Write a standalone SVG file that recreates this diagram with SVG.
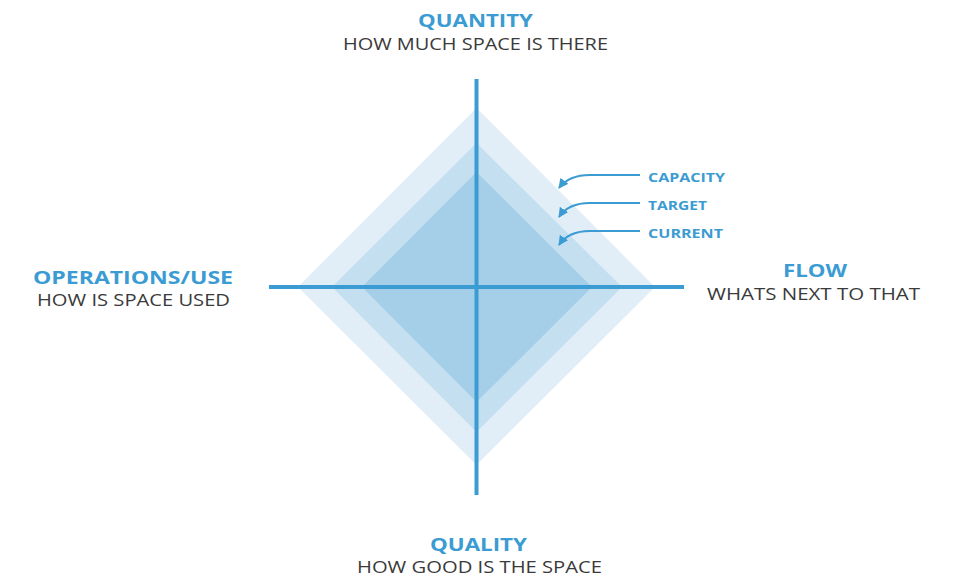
<svg xmlns="http://www.w3.org/2000/svg" width="958" height="578" viewBox="0 0 958 578">
<defs>
<style>
.title{font-family:"Open Sans","Liberation Sans",sans-serif;font-weight:700;font-size:17px;fill:#3b9bd3;}
.sub{font-family:"Open Sans","Liberation Sans",sans-serif;font-weight:400;font-size:16px;fill:#3a3a3a;}
.lbl{font-family:"Open Sans","Liberation Sans",sans-serif;font-weight:700;font-size:13px;fill:#3b9bd3;}
.axis{stroke:#3b9bd3;stroke-width:4;fill:none;}
.conn{stroke:#3b9bd3;stroke-width:2;fill:none;}
</style>
<marker id="ah" viewBox="0 0 10 10" refX="9" refY="5" markerWidth="5" markerHeight="5" orient="auto" markerUnits="strokeWidth">
<path d="M0,0 L10,5 L0,10 z" fill="#3b9bd3"/>
</marker>
</defs>
<rect width="958" height="578" fill="#ffffff"/>
<g id="diamonds">
<polygon id="capacity-area" points="476.5,108 655,287 476.5,465 298,287" fill="#e1edf7"/>
<polygon id="target-area" points="476.5,143 622,287 476.5,432 332,287" fill="#c3dff0"/>
<polygon id="current-area" points="476.5,172 592,287 476.5,402 362,287" fill="#a5cfe8"/>
</g>
<g id="axes">
<line class="axis" x1="476.5" y1="79" x2="476.5" y2="495"/>
<line class="axis" x1="269" y1="287" x2="684" y2="287"/>
</g>
<g id="connectors">
<path class="conn" d="M640,175 L590,175 C575,175 565,180 559,188" marker-end="url(#ah)"/>
<path class="conn" d="M640,203 L590,203 C575,203 565,208 559,217" marker-end="url(#ah)"/>
<path class="conn" d="M640,231 L590,231 C575,231 565,236 559,245" marker-end="url(#ah)"/>
</g>
<g id="node-capacity"><text class="lbl" x="648" y="182" textLength="77" lengthAdjust="spacingAndGlyphs">CAPACITY</text></g>
<g id="node-target"><text class="lbl" x="648" y="210" textLength="59" lengthAdjust="spacingAndGlyphs">TARGET</text></g>
<g id="node-current"><text class="lbl" x="648" y="238" textLength="75" lengthAdjust="spacingAndGlyphs">CURRENT</text></g>
<g id="node-quantity">
<text class="title" x="418" y="27" textLength="115" lengthAdjust="spacingAndGlyphs">QUANTITY</text>
<text class="sub" x="343" y="50" textLength="265" lengthAdjust="spacingAndGlyphs">HOW MUCH SPACE IS THERE</text>
</g>
<g id="node-operations">
<text class="title" x="33" y="284" textLength="200" lengthAdjust="spacingAndGlyphs">OPERATIONS/USE</text>
<text class="sub" x="37" y="306" textLength="193" lengthAdjust="spacingAndGlyphs">HOW IS SPACE USED</text>
</g>
<g id="node-flow">
<text class="title" x="783" y="277" textLength="64" lengthAdjust="spacingAndGlyphs">FLOW</text>
<text class="sub" x="707" y="300" textLength="213" lengthAdjust="spacingAndGlyphs">WHATS NEXT TO THAT</text>
</g>
<g id="node-quality">
<text class="title" x="430" y="551" textLength="97" lengthAdjust="spacingAndGlyphs">QUALITY</text>
<text class="sub" x="357" y="573" textLength="245" lengthAdjust="spacingAndGlyphs">HOW GOOD IS THE SPACE</text>
</g>
</svg>
